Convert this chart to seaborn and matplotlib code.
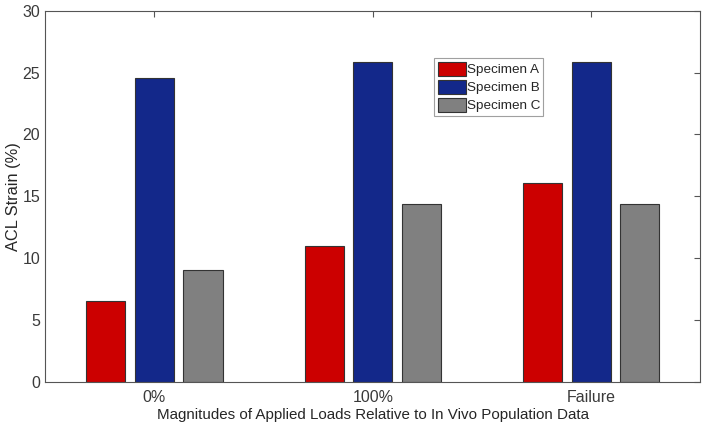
import numpy as np
import pandas as pd
import matplotlib
matplotlib.use("Agg")
import matplotlib.pyplot as plt
import seaborn as sns

loads = ["0%", "100%", "Failure"]
specimens = ["Specimen A", "Specimen B", "Specimen C"]
strain_a = [6.5, 11.0, 16.1]
strain_b = [24.6, 25.9, 25.9]
strain_c = [9.05, 14.4, 14.4]
colors = ["#CC0000", "#13288A", "#808080"]

df = pd.DataFrame({
    "load": loads * 3,
    "specimen": [s for s in specimens for _ in loads],
    "strain": strain_a + strain_b + strain_c,
})

sns.set_style("white")
plt.rcParams["font.family"] = ["Liberation Sans", "DejaVu Sans"]

fig, ax = plt.subplots(figsize=(7.04, 4.32), dpi=100)
sns.barplot(data=df, x="load", y="strain", hue="specimen", order=loads,
            hue_order=specimens, palette=colors, width=0.667, gap=0.19,
            edgecolor="#333333", linewidth=0.8, saturation=1, ax=ax)

ax.set_xlim(-0.5, 2.5)
ax.set_ylim(0, 30)
ax.set_yticks(range(0, 31, 5))
ax.set_axisbelow(True)
ax.set_xlabel("Magnitudes of Applied Loads Relative to In Vivo Population Data",
              fontsize=10.9, color="#262626", labelpad=2)
ax.set_ylabel("ACL Strain (%)", fontsize=11.8, color="#262626", labelpad=1)
ax.tick_params(axis="both", labelsize=11.5, labelcolor="#3a3a3a", direction="in",
               length=4, color="#555555", right=True, top=True)
ax.tick_params(axis="x", pad=6)
for sp in ax.spines.values():
    sp.set_color("#555555")
    sp.set_linewidth(0.8)
    sp.set_zorder(3)

leg = ax.legend(loc="upper left", bbox_to_anchor=(0.594, 0.872), fontsize=9.7,
                frameon=True, fancybox=False, edgecolor="#888888",
                borderpad=0.25, labelspacing=0.25, handlelength=2.1,
                handleheight=1.25, handletextpad=0.05, borderaxespad=0)
leg.get_frame().set_linewidth(0.8)

fig.subplots_adjust(left=0.064, right=0.995, top=0.975, bottom=0.116)
fig.savefig("out.png", dpi=100)
